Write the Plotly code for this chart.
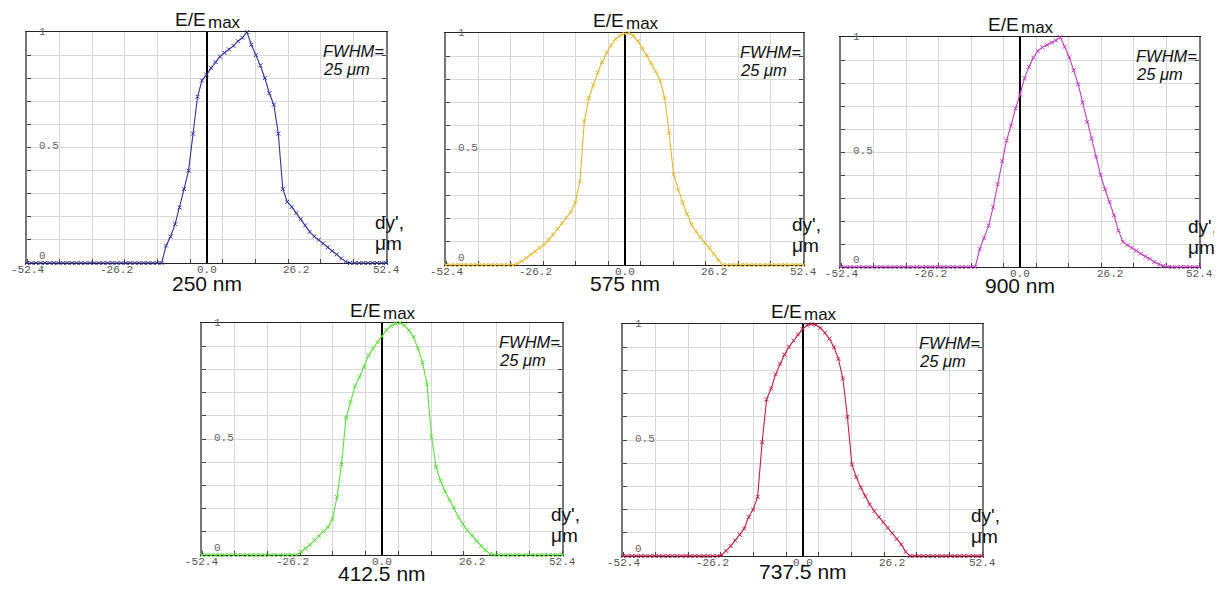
import plotly.graph_objects as go

# the page body adds an 8 px margin, so the figure is 8 px smaller and all
# reference pixel positions are offset by 8 px
PAGE_MARGIN = 8
W, H = 1222 - PAGE_MARGIN, 590 - PAGE_MARGIN

# ---- data ----
x_um = [
    -52.4, -51.09, -49.78, -48.47, -47.16, -45.85, -44.54, -43.23, -41.92, -40.61,
    -39.3, -37.99, -36.68, -35.37, -34.06, -32.75, -31.44, -30.13, -28.82, -27.51,
    -26.2, -24.89, -23.58, -22.27, -20.96, -19.65, -18.34, -17.03, -15.72, -14.41,
    -13.1, -11.79, -10.48, -9.17, -7.86, -6.55, -5.24, -3.93, -2.62, -1.31,
    0.0, 1.31, 2.62, 3.93, 5.24, 6.55, 7.86, 9.17, 10.48, 11.79,
    13.1, 14.41, 15.72, 17.03, 18.34, 19.65, 20.96, 22.27, 23.58, 24.89,
    26.2, 27.51, 28.82, 30.13, 31.44, 32.75, 34.06, 35.37, 36.68, 37.99,
    39.3, 40.61, 41.92, 43.23, 44.54, 45.85, 47.16, 48.47, 49.78, 51.09,
    52.4,
]

e_250nm = [
    0, 0, 0, 0, 0, 0, 0, 0, 0, 0,
    0, 0, 0, 0, 0, 0, 0, 0, 0, 0,
    0, 0, 0, 0, 0, 0, 0, 0, 0, 0,
    0, 0.075, 0.115, 0.168, 0.24, 0.32, 0.40, 0.56, 0.72, 0.79,
    0.815, 0.845, 0.87, 0.893, 0.91, 0.925, 0.94, 0.96, 0.975, 1.0,
    0.945, 0.90, 0.855, 0.80, 0.735, 0.685, 0.56, 0.32, 0.265, 0.243,
    0.216, 0.19, 0.163, 0.135, 0.115, 0.10, 0.085, 0.068, 0.052, 0.037,
    0.02, 0.006, 0, 0, 0, 0, 0, 0, 0, 0,
    0,
]

e_575nm = [
    0, 0, 0, 0, 0, 0, 0, 0, 0, 0,
    0, 0, 0, 0, 0, 0, 0.006, 0.016, 0.031, 0.045,
    0.058, 0.074, 0.089, 0.108, 0.13, 0.155, 0.18, 0.204, 0.23, 0.27,
    0.36, 0.62, 0.72, 0.775, 0.83, 0.875, 0.915, 0.947, 0.974, 0.989,
    0.997, 1.0, 0.988, 0.965, 0.935, 0.905, 0.87, 0.833, 0.795, 0.72,
    0.57, 0.39, 0.325, 0.27, 0.22, 0.175, 0.145, 0.12, 0.095, 0.075,
    0.048, 0.02, 0, 0, 0, 0, 0, 0, 0, 0,
    0, 0, 0, 0, 0, 0, 0, 0, 0, 0,
    0,
]

e_900nm = [
    0, 0, 0, 0, 0, 0, 0, 0, 0, 0,
    0, 0, 0, 0, 0, 0, 0, 0, 0, 0,
    0, 0, 0, 0, 0, 0, 0, 0, 0, 0,
    0, 0.078, 0.125, 0.18, 0.26, 0.36, 0.46, 0.55, 0.615, 0.69,
    0.75, 0.82, 0.87, 0.91, 0.94, 0.955, 0.965, 0.975, 0.985, 1.0,
    0.958, 0.912, 0.855, 0.795, 0.715, 0.63, 0.558, 0.48, 0.40, 0.338,
    0.283, 0.225, 0.158, 0.11, 0.095, 0.084, 0.071, 0.058, 0.046, 0.036,
    0.022, 0.012, 0.005, 0.001, 0, 0, 0, 0, 0, 0,
    0,
]

e_412_5nm = [
    0, 0, 0, 0, 0, 0, 0, 0, 0, 0,
    0, 0, 0, 0, 0, 0, 0, 0, 0, 0,
    0, 0, 0.013, 0.028, 0.044, 0.063, 0.082, 0.102, 0.12, 0.155,
    0.25, 0.39, 0.59, 0.66, 0.727, 0.767, 0.81, 0.86, 0.89, 0.917,
    0.942, 0.97, 0.988, 0.998, 1.0, 0.99, 0.968, 0.94, 0.89, 0.83,
    0.735, 0.51, 0.38, 0.32, 0.275, 0.238, 0.205, 0.163, 0.133, 0.105,
    0.085, 0.06, 0.04, 0.021, 0.005, 0, 0, 0, 0, 0,
    0, 0, 0, 0, 0, 0, 0, 0, 0, 0,
    0,
]

e_737_5nm = [
    0, 0, 0, 0, 0, 0, 0, 0, 0, 0,
    0, 0, 0, 0, 0, 0, 0, 0, 0, 0,
    0, 0, 0.005, 0.022, 0.043, 0.067, 0.092, 0.118, 0.168, 0.2,
    0.255, 0.49, 0.675, 0.722, 0.783, 0.829, 0.868, 0.902, 0.929, 0.955,
    0.978, 0.994, 1.0, 0.996, 0.983, 0.962, 0.937, 0.9, 0.85, 0.765,
    0.6, 0.395, 0.34, 0.295, 0.258, 0.222, 0.193, 0.168, 0.145, 0.121,
    0.098, 0.074, 0.05, 0.018, 0, 0, 0, 0, 0, 0,
    0, 0, 0, 0, 0, 0, 0, 0, 0, 0,
    0,
]

wavelength_labels = ["250 nm", "575 nm", "900 nm", "412.5 nm", "737.5 nm"]
series_values = [e_250nm, e_575nm, e_900nm, e_412_5nm, e_737_5nm]
series_colors = ["#34349e", "#e6b830", "#c23cc2", "#5ade3a", "#c41c48"]

x_tick_vals = [-52.4, -26.2, 0.0, 26.2, 52.4]
x_tick_text = ["-52.4", "-26.2", "0.0", "26.2", "52.4"]
y_tick_vals = [0, 0.5, 1]
y_tick_text = ["0", "0.5", "1"]
fwhm_lines = ["FWHM=", "25 μm"]
x_range = [-52.4, 52.4]

# ---- layout geometry (reference pixel boxes of each plot area: left, top, right, bottom) ----
boxes = [
    (27, 32, 386, 263),
    (446, 33, 803, 265),
    (841, 37, 1199, 267),
    (202, 323, 562, 555),
    (623, 324, 982, 556),
]
label_shift = [-7, -5, -5, -5, -2]

SANS = "Liberation Sans, Arial, sans-serif"
MONO = "Liberation Mono, Courier New, monospace"
GRID = "#d8d8d8"

fig = go.Figure()
annotations = []
layout_axes = {}

for i, (vals, color, label, box) in enumerate(zip(series_values, series_colors, wavelength_labels, boxes)):
    n = i + 1
    xa = "x" if n == 1 else f"x{n}"
    ya = "y" if n == 1 else f"y{n}"
    xk = "xaxis" if n == 1 else f"xaxis{n}"
    yk = "yaxis" if n == 1 else f"yaxis{n}"
    l, t, r, b = [v - PAGE_MARGIN for v in box]

    fig.add_trace(go.Scatter(
        x=x_um, y=vals, xaxis=xa, yaxis=ya,
        mode="lines+markers",
        line=dict(color=color, width=1.1),
        marker=dict(symbol="x-thin", size=4, color=color, line=dict(width=1, color=color)),
        cliponaxis=False, showlegend=False, hoverinfo="skip",
    ))

    layout_axes[xk] = dict(
        domain=[l / W, r / W], anchor=ya, range=x_range,
        tickmode="array", tickvals=x_tick_vals, ticktext=x_tick_text,
        showticklabels=False, ticks="", showgrid=False,
        zeroline=True, zerolinecolor="black", zerolinewidth=2,
        showline=True, mirror=True, linecolor="#222", linewidth=1.2,
        minor=dict(tickmode="linear", tick0=-52.4, dtick=104.8 / 11,
                   showgrid=True, gridcolor=GRID, gridwidth=1,
                   ticks="inside", ticklen=4, tickcolor="#444"),
        layer="below traces", fixedrange=True,
    )
    layout_axes[yk] = dict(
        domain=[1 - b / H, 1 - t / H], anchor=xa, range=[0, 1],
        tickmode="linear", tick0=0, dtick=0.1, showticklabels=False,
        ticks="inside", ticklen=4, tickcolor="#444",
        showgrid=True, gridcolor=GRID, gridwidth=1, zeroline=False,
        showline=True, mirror="ticks", linecolor="#777", linewidth=1.5,
        layer="below traces", fixedrange=True,
    )

    # x tick labels below the axis
    for v, txt in zip(x_tick_vals, x_tick_text):
        annotations.append(dict(
            text=txt, xref=xa, x=v, xanchor="center",
            yref=f"{ya} domain", y=0, yanchor="middle", yshift=-7, showarrow=False,
            font=dict(family=MONO, size=11, color="#555"),
        ))

    # y tick labels inside the plot
    y_shifts = [7, 1, 0]
    for v, txt, ys in zip(y_tick_vals, y_tick_text, y_shifts):
        annotations.append(dict(
            text=txt, xref=f"{xa} domain", x=0, xanchor="left", xshift=10,
            yref=ya, y=v, yanchor="middle", yshift=ys, showarrow=False,
            font=dict(family=MONO, size=11, color="#666"),
        ))

    # axis title E/E_max
    annotations.append(dict(
        text="E/E", xref=xa, x=0, xanchor="right", xshift=1,
        yref=f"{ya} domain", y=1, yanchor="bottom", yshift=0, showarrow=False,
        font=dict(family=SANS, size=19, color="#111"),
    ))
    annotations.append(dict(
        text="max", xref=xa, x=0, xanchor="left", xshift=-1,
        yref=f"{ya} domain", y=1, yanchor="bottom", yshift=-2, showarrow=False,
        font=dict(family=SANS, size=17, color="#111"),
    ))

    # FWHM note
    annotations.append(dict(
        text=f"<i>{fwhm_lines[0]}</i>", xref=f"{xa} domain", x=1, xanchor="left", xshift=-65,
        yref=f"{ya} domain", y=1, yanchor="top", yshift=-8, showarrow=False,
        font=dict(family=SANS, size=16.5, color="#111"),
    ))
    annotations.append(dict(
        text=f"<i>{fwhm_lines[1]}</i>", xref=f"{xa} domain", x=1, xanchor="left", xshift=-65,
        yref=f"{ya} domain", y=1, yanchor="top", yshift=-26, showarrow=False,
        font=dict(family=SANS, size=16.5, color="#111"),
    ))

    # x axis title
    annotations.append(dict(
        text="dy',", xref=f"{xa} domain", x=1, xanchor="left", xshift=-13,
        yref=f"{ya} domain", y=0, yanchor="bottom", yshift=28, showarrow=False,
        font=dict(family=SANS, size=19, color="#111"),
    ))
    annotations.append(dict(
        text="μm", xref=f"{xa} domain", x=1, xanchor="left", xshift=-13,
        yref=f"{ya} domain", y=0, yanchor="bottom", yshift=7, showarrow=False,
        font=dict(family=SANS, size=19, color="#111"),
    ))

    # wavelength label
    annotations.append(dict(
        text=label, xref=xa, x=0, xanchor="center",
        yref=f"{ya} domain", y=0, yanchor="top", yshift=label_shift[i], showarrow=False,
        font=dict(family=SANS, size=21, color="#111"),
    ))

fig.update_layout(
    width=W, height=H,
    margin=dict(l=0, r=0, t=0, b=0, autoexpand=False),
    paper_bgcolor="white", plot_bgcolor="white",
    showlegend=False,
    annotations=annotations,
    **layout_axes,
)

fig.write_html("out.html")
